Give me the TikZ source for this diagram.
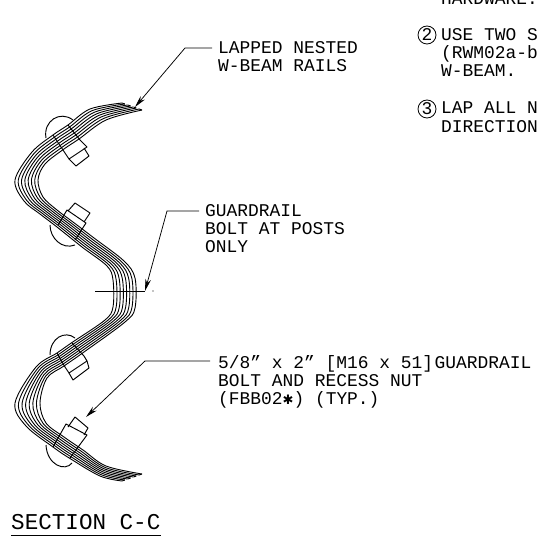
\documentclass[tikz,border=0pt]{standalone}
\usepackage{fontspec}
\usetikzlibrary{calc,arrows.meta}
\setmainfont{Liberation Mono}
\newfontfamily\symfont{DejaVu Sans}
\newcommand{\notefont}{\fontsize{17.9}{18.3}\selectfont}
\newcommand{\titlefont}{\fontsize{22.6}{24}\selectfont}
\tikzset{
  note/.style={font=\notefont,align=left,anchor=north west,inner sep=0pt,text=black},
  title/.style={font=\titlefont,anchor=north west,inner sep=0pt},
  leader/.style={line width=0.75pt,-{Stealth[length=12pt,width=5.5pt]}},
  railline/.style={line width=0.9pt},
  boltline/.style={line width=0.95pt,line join=round},
  centerline/.style={line width=0.8pt},
  callout/.style={draw,circle,line width=0.8pt,minimum size=18pt,inner sep=0pt,font=\notefont}
}
\begin{document}
\begin{tikzpicture}[x=1pt,y=-1pt]
\useasboundingbox (0,0) rectangle (538,540);
% rail edge guide points, L = left edge, R = right edge
\foreach \n/\lx/\ly/\rx/\ry in {
 1/122/103/142/110, 2/90/109/106/120, 3/68/125/79/139, 4/53/135/64/149,
 5/32/152/45/164, 6/15/180/38/180, 7/24/201/43/197, 8/40/214/57/210,
 9/57/227/73/222, 10/82/247/94/238, 11/107/266/124/261, 12/113/280/135/278,
 13/113/307/135/308, 14/105/320/125/322, 15/72/342.5/84/352, 16/57/353/64/366,
 17/36/367/47/378, 18/15/403/40/403, 19/26/426/46/423, 20/53/447/64/437,
 21/70/458.5/83/450, 22/100/476/106/466, 23/122/481/142/474}{
  \coordinate (L\n) at (\lx,\ly);
  \coordinate (R\n) at (\rx,\ry);
}
% eight rail lines
\foreach \t in {0,0.1429,0.2857,0.4286,0.5714,0.7143,0.8571,1}{
  \draw[railline] plot[smooth,tension=0.55] coordinates {
   ($(L1)!\t!(R1)$) ($(L2)!\t!(R2)$) ($(L3)!\t!(R3)$) ($(L4)!\t!(R4)$)
   ($(L5)!\t!(R5)$) ($(L6)!\t!(R6)$) ($(L7)!\t!(R7)$) ($(L8)!\t!(R8)$)
   ($(L9)!\t!(R9)$) ($(L10)!\t!(R10)$) ($(L11)!\t!(R11)$) ($(L12)!\t!(R12)$)
   ($(L13)!\t!(R13)$) ($(L14)!\t!(R14)$) ($(L15)!\t!(R15)$) ($(L16)!\t!(R16)$)
   ($(L17)!\t!(R17)$) ($(L18)!\t!(R18)$) ($(L19)!\t!(R19)$) ($(L20)!\t!(R20)$)
   ($(L21)!\t!(R21)$) ($(L22)!\t!(R22)$) ($(L23)!\t!(R23)$)};
}
% closed rail tips
\foreach \a/\b in {0/0.1429,0.2857/0.4286,0.5714/0.7143,0.8571/1}{
  \draw[railline] ($(L1)!\a!(R1)$) -- ($(L1)!\b!(R1)$);
  \draw[railline] ($(L23)!\a!(R23)$) -- ($(L23)!\b!(R23)$);
}
% bolt 1
\draw[boltline] (46,138) .. controls (43,121) and (60,110) .. (73,120);
\draw[boltline] (53,135) -- (63,150) -- (69,159) -- (87,147) -- (80,140) -- (68,125);
\draw[boltline] (69,159) -- (76,166) -- (89,156) -- (84,148);
% bolt 2
\draw[boltline] (50,225) .. controls (50,238) and (62,250) .. (75,245);
\draw[boltline] (58,225) -- (67,210) -- (86,223) -- (75,240);
\draw[boltline] (68,211) -- (75,203) -- (90,213) -- (84,222);
% bolt 3
\draw[boltline] (50,355) .. controls (50,338) and (65,330) .. (75,338);
\draw[boltline] (57,353) -- (65,367) -- (69,373) -- (87,361) -- (84,356) -- (72,343);
\draw[boltline] (69,373) -- (73,380) -- (89,368) -- (87,361);
% bolt 4
\draw[boltline] (46,445) .. controls (47,465) and (65,472) .. (72,463);
\draw[boltline] (53,447) -- (66,424) -- (87,435) -- (70,458);
\draw[boltline] (68,427) -- (75,417) -- (88,428) -- (84,435);
% centre line of the post bolt
\draw[centerline] (95,291) -- (145,291);
\fill (153,291) circle (0.6);
% labels
\node[note] (lap) at (218,41) {LAPPED NESTED\\W-BEAM RAILS};
\node[note] (gdr) at (205,204) {GUARDRAIL\\BOLT AT POSTS\\ONLY};
\node[note] (fbb) at (218,355) {5/8" x 2" [M16 x 51]\hspace{-9pt} GUARDRAIL\\BOLT AND RECESS NUT\\(FBB02{\symfont\fontsize{13}{13}\selectfont ✱}) (TYP.)};
\node[title] (sec) at (11,514) {SECTION C-C};
\draw[line width=0.9pt] (sec.south west |- 0,535.5) -- (sec.south east |- 0,535.5);
% notes on the right, cut by the edge of the sheet
\node[note] (n1) at (441,-7) {HARDWARE.};
\node[callout] (c2) at (427,35) {2};
\node[note] (n2) at (441,28) {USE TWO S\\(RWM02a-b\\W-BEAM.};
\node[callout] (c3) at (427,109) {3};
\node[note] (n3) at (441,102) {LAP ALL N\\DIRECTION};
% leaders
\coordinate (lapend) at (212,48);
\coordinate (lapelbow) at (185,48);
\coordinate (laptip) at (135,107);
\draw[leader] (lapend) -- (lapelbow) -- (laptip);
\coordinate (gdrend) at (199,211);
\coordinate (gdrelbow) at (167,211);
\coordinate (gdrtip) at (145,291);
\draw[leader] (gdrend) -- (gdrelbow) -- (gdrtip);
\coordinate (fbbend) at (210,361);
\coordinate (fbbelbow) at (145,361);
\coordinate (fbbtip) at (86,417);
\draw[leader] (fbbend) -- (fbbelbow) -- (fbbtip);
\end{tikzpicture}
\end{document}
